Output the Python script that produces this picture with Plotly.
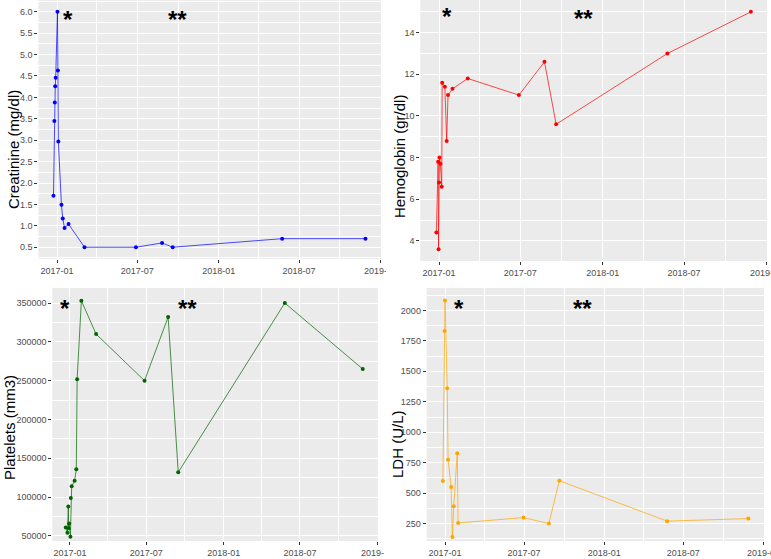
import plotly.graph_objects as go

# creatinine (mg/dl)
cr_dates = ["2016-12-24", "2016-12-26", "2016-12-27", "2016-12-28", "2016-12-29", "2017-01-02",
            "2017-01-03", "2017-01-04", "2017-01-11", "2017-01-14", "2017-01-18", "2017-01-27",
            "2017-03-04", "2017-06-28", "2017-08-26", "2017-09-19", "2018-05-24", "2018-11-28"]
cr_values = [1.70, 3.45, 3.88, 4.26, 4.46, 6.00, 4.63, 2.97, 1.49, 1.17, 0.95, 1.04,
             0.50, 0.50, 0.60, 0.50, 0.70, 0.70]

# hemoglobin (gr/dl)
hb_dates = ["2016-12-26", "2016-12-30", "2016-12-31", "2017-01-01", "2017-01-02", "2017-01-04",
            "2017-01-07", "2017-01-08", "2017-01-14", "2017-01-18", "2017-01-21", "2017-01-31",
            "2017-03-06", "2017-06-28", "2017-08-24", "2017-09-19", "2018-05-25", "2018-11-27"]
hb_values = [4.4, 7.8, 3.6, 6.8, 8.0, 7.7, 6.6, 11.6, 11.4, 8.8, 11.0, 11.3,
             11.8, 11.0, 12.6, 9.6, 13.0, 15.0]

# platelets (mm3)
plt_dates = ["2016-12-22", "2016-12-26", "2016-12-28", "2016-12-29", "2016-12-30", "2017-01-02",
             "2017-01-03", "2017-01-05", "2017-01-12", "2017-01-16", "2017-01-18", "2017-01-28",
             "2017-03-04", "2017-06-27", "2017-08-22", "2017-09-15", "2018-05-26", "2018-11-27"]
plt_values = [61000, 54000, 88000, 60000, 66000, 49000, 99000, 114000, 121000, 136000, 252000, 353000,
              310000, 250000, 332000, 132000, 350000, 265000]

# LDH (U/L)
ldh_dates = ["2016-12-27", "2016-12-31", "2017-01-01", "2017-01-06", "2017-01-08", "2017-01-15",
             "2017-01-18", "2017-01-21", "2017-01-29", "2017-01-31", "2017-06-30", "2017-08-27",
             "2017-09-20", "2018-05-25", "2018-11-27"]
ldh_values = [600, 1830, 2082, 1362, 775, 550, 140, 393, 827, 255, 299, 250, 602, 270, 291]

# asterisk markers (* and **) per panel: (date, value)
star1_dates = ["2017-01-26", "2017-09-29"]
star1_values = [5.91, 5.91]
star2_dates = ["2017-01-19", "2017-11-18"]
star2_values = [14.95, 14.86]
star3_dates = ["2016-12-20", "2017-10-08"]
star3_values = [348700, 348700]
star4_dates = ["2017-02-02", "2017-11-13"]
star4_values = [2052, 2052]
star_labels = ["*", "**"]

W, H = 771, 559
X_RANGE = ["2016-11-20", "2019-01-02"]
TICK_FONT = dict(family="Liberation Sans, Arial, sans-serif", size=9, color="#4D4D4D")
TITLE_FONT = dict(family="Liberation Sans, Arial, sans-serif", size=15, color="black")
STAR_FONT = dict(family="Liberation Sans, Arial, sans-serif", size=24, color="black", weight="bold")


def xdom(left, right):
    return [left / W, right / W]


def ydom(top, bottom):
    return [1 - bottom / H, 1 - top / H]


panels = [
    # name, dates, values, color, domain x, domain y, y range, y dtick, y format,
    # title, title x/y px, star dates, star values
    ("1", cr_dates, cr_values, "blue", xdom(38.4, 381), ydom(0, 259), [0.225, 6.275], 0.5, ".1f",
     "Creatinine (mg/dl)", 13, 150, star1_dates, star1_values),
    ("2", hb_dates, hb_values, "red", xdom(420.2, 767), ydom(0, 261), [3.03, 15.57], 2, "d",
     "Hemoglobin (gr/dl)", 400, 157, star2_dates, star2_values),
    ("3", plt_dates, plt_values, "darkgreen", xdom(52.3, 377.9), ydom(288, 541), [43500, 369400], 50000, "d",
     "Platelets (mm3)", 9, 428, star3_dates, star3_values),
    ("4", ldh_dates, ldh_values, "orange", xdom(426.7, 764), ydom(288, 541), [107, 2184], 250, "d",
     "LDH (U/L)", 397, 444, star4_dates, star4_values),
]

fig = go.Figure()
annotations = []
layout = {}

for (name, dates, values, color, dx, dy, yr, ydt, yfmt, title, title_x, title_y,
     s_dates, s_values) in panels:
    suffix = "" if name == "1" else name
    fig.add_trace(go.Scatter(
        x=dates, y=values,
        mode="lines+markers",
        line=dict(color=color, width=0.7),
        marker=dict(color=color, size=4),
        xaxis="x" + suffix, yaxis="y" + suffix,
        hoverinfo="x+y",
    ))
    layout["xaxis" + suffix] = dict(
        domain=dx, anchor="y" + suffix, type="date", range=X_RANGE,
        tick0="2017-01-01", dtick="M6", tickformat="%Y-%m",
        showgrid=True, gridcolor="white", gridwidth=1.1,
        minor=dict(dtick="M3", tick0="2017-01-01", showgrid=True, gridcolor="white", gridwidth=0.5),
        ticks="outside", ticklen=3, tickcolor="#333333", tickwidth=1,
        tickfont=TICK_FONT, zeroline=False, showline=False, automargin=False,
        ticklabeloverflow="allow",
    )
    layout["yaxis" + suffix] = dict(
        domain=dy, anchor="x" + suffix, range=yr,
        tick0=0, dtick=ydt, tickformat=yfmt,
        showgrid=True, gridcolor="white", gridwidth=1.1,
        minor=dict(dtick=ydt / 2, showgrid=True, gridcolor="white", gridwidth=0.5),
        ticks="outside", ticklen=3, tickcolor="#333333", tickwidth=1,
        tickfont=TICK_FONT, zeroline=False, showline=False, automargin=False,
    )
    annotations.append(dict(
        text=title, textangle=-90, font=TITLE_FONT,
        xref="paper", yref="paper", x=title_x / W, y=1 - title_y / H,
        xanchor="center", yanchor="middle", showarrow=False,
    ))
    for d, v, lab in zip(s_dates, s_values, star_labels):
        annotations.append(dict(
            text=lab, xref="x" + suffix, yref="y" + suffix, x=d, y=v,
            font=STAR_FONT, showarrow=False, xanchor="center", yanchor="middle", yshift=-4,
        ))

# the left panels were cropped in the source image, cutting off their last date label
crop_shapes = [
    dict(type="rect", xref="paper", yref="paper", layer="above",
         x0=386 / W, x1=405 / W, y0=1 - 278 / H, y1=1 - 260 / H,
         fillcolor="white", line=dict(width=0)),
    dict(type="rect", xref="paper", yref="paper", layer="above",
         x0=384 / W, x1=405 / W, y0=0, y1=1 - 542 / H,
         fillcolor="white", line=dict(width=0)),
]

fig.update_layout(
    width=W, height=H,
    margin=dict(l=0, r=0, t=0, b=0),
    paper_bgcolor="white",
    plot_bgcolor="#EBEBEB",
    showlegend=False,
    hovermode="closest",
    annotations=annotations,
    shapes=crop_shapes,
    **layout,
)

# drop the default 8px body margin so the figure fills the window exactly
fig.write_html("out.html", config={"displayModeBar": False},
               post_script="document.body.style.margin='0';document.body.style.overflow='hidden';")
